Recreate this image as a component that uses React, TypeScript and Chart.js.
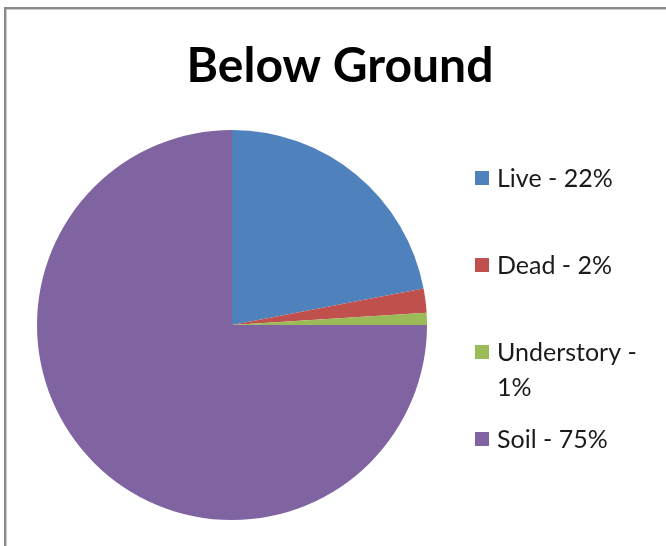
import React, { useEffect, useRef } from "react";
import { Chart, registerables } from "chart.js";

Chart.register(...registerables);

const title = "Below Ground";
const categories = ["Live", "Dead", "Understory", "Soil"];
const percents = [22, 2, 1, 75];
const colors = ["#4F81BD", "#C0504D", "#9BBB59", "#8064A2"];
// legend text lines per entry (the long one wraps)
const legendLines = [["Live - 22%"], ["Dead - 2%"], ["Understory -", "1%"], ["Soil - 75%"]];
const legendRowY = [178, 265, 352, 439];

const FONT = "Lato, 'Open Sans', 'Noto Sans', sans-serif";

const decorations = {
  id: "decorations",
  afterDraw(chart: any) {
    const ctx = chart.ctx as CanvasRenderingContext2D;
    ctx.save();
    // title
    ctx.fillStyle = "#000";
    ctx.font = `bold 48px ${FONT}`;
    ctx.textAlign = "center";
    ctx.textBaseline = "alphabetic";
    ctx.fillText(title, 340, 82);
    // legend
    ctx.font = `25px ${FONT}`;
    ctx.textAlign = "left";
    ctx.textBaseline = "middle";
    categories.forEach((_, i) => {
      const y = legendRowY[i];
      ctx.fillStyle = colors[i];
      ctx.fillRect(475, y - 7, 14, 14);
      ctx.fillStyle = "#1a1a1a";
      legendLines[i].forEach((line, j) => {
        ctx.fillText(line, 497, y + 1 + j * 35);
      });
    });
    ctx.restore();
  },
};

export default function App() {
  const canvasRef = useRef<HTMLCanvasElement | null>(null);

  useEffect(() => {
    document.body.style.margin = "0";
    const canvas = canvasRef.current;
    if (!canvas) return;
    const chart = new Chart(canvas, {
      type: "pie",
      data: {
        labels: categories,
        datasets: [
          {
            data: percents,
            backgroundColor: colors,
            borderWidth: 0,
          },
        ],
      },
      options: {
        responsive: false,
        animation: false,
        layout: { padding: { left: 37, right: 239, top: 130, bottom: 26 } },
        plugins: {
          legend: { display: false },
          title: { display: false },
          tooltip: { enabled: false },
        },
      },
      plugins: [decorations],
    });
    return () => chart.destroy();
  }, []);

  return (
    <div style={{ position: "relative", width: 666, height: 546, background: "#fff", overflow: "hidden" }}>
      <div
        style={{
          position: "absolute",
          left: 4,
          top: 7,
          right: -10,
          bottom: -10,
          borderTop: "2px solid #8a8a8a",
          borderLeft: "2px solid #8a8a8a",
          boxShadow: "inset 1px 1px 0 #c9c9c9",
        }}
      />
      <canvas ref={canvasRef} width={666} height={546} style={{ position: "absolute", left: 0, top: 0 }} />
    </div>
  );
}
